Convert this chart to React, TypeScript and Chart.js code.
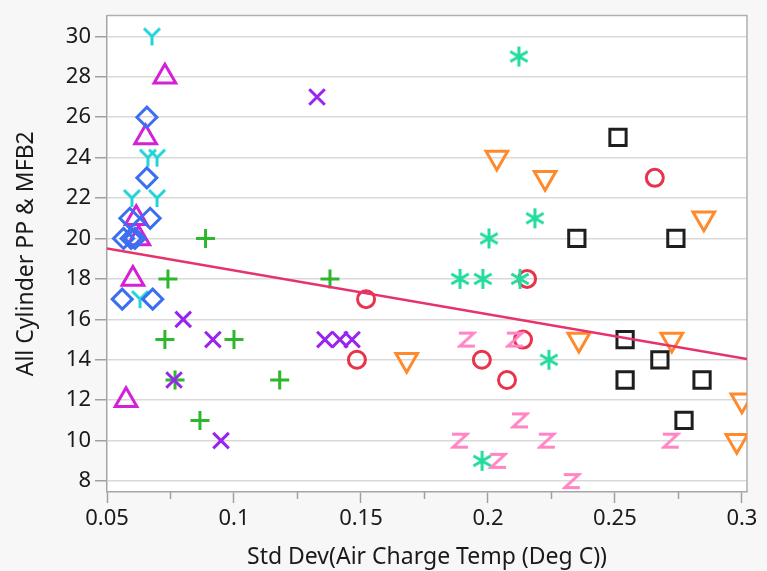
import { useEffect, useRef } from "react";
import { Chart, registerables } from "chart.js";
Chart.register(...registerables);

// ---- axis ticks ----
const xTickValues = [0.05, 0.075, 0.1, 0.125, 0.15, 0.175, 0.2, 0.225, 0.25, 0.275, 0.3];
const xMajorValues = [0.05, 0.1, 0.15, 0.2, 0.25, 0.3];
const xMajorLabels = ["0.05", "0.1", "0.15", "0.2", "0.25", "0.3"];
const yTickValues = [8, 10, 12, 14, 16, 18, 20, 22, 24, 26, 28, 30];
const yTickLabels = ["8", "10", "12", "14", "16", "18", "20", "22", "24", "26", "28", "30"];

// ---- series (x = Std Dev Air Charge Temp, y = All Cylinder PP & MFB2) ----
const cyanYx = [0.0677, 0.0661, 0.0697, 0.0598, 0.0697, 0.063];
const cyanYy = [30, 24, 24, 22, 22, 17];

const magentaTriX = [0.0728, 0.0652, 0.0615, 0.0625, 0.0602, 0.0575];
const magentaTriY = [28, 25, 21, 20, 18, 12];

const blueDiaX = [0.0657, 0.0657, 0.067, 0.059, 0.0565, 0.0595, 0.061, 0.056, 0.068];
const blueDiaY = [26, 23, 21, 21, 20, 20, 20, 17, 17];

const greenPlusX = [0.0888, 0.074, 0.1378, 0.0728, 0.1, 0.0768, 0.118, 0.0866];
const greenPlusY = [20, 18, 18, 15, 15, 13, 13, 11];

const purpleXx = [0.1327, 0.08, 0.0917, 0.1358, 0.1417, 0.1465, 0.0764, 0.0949];
const purpleXy = [27, 16, 15, 15, 15, 15, 13, 10];

const redCircX = [0.1484, 0.152, 0.1976, 0.2075, 0.2154, 0.2138, 0.2657];
const redCircY = [14, 17, 14, 13, 18, 15, 23];

const orangeDownX = [0.2035, 0.2225, 0.168, 0.2358, 0.285, 0.2724, 0.3, 0.298];
const orangeDownY = [24, 23, 14, 15, 21, 15, 12, 10];

const tealStarX = [0.2122, 0.2004, 0.2185, 0.189, 0.198, 0.2126, 0.224, 0.1977];
const tealStarY = [29, 20, 21, 18, 18, 18, 14, 9];

const pinkZx = [0.1917, 0.2106, 0.2126, 0.189, 0.2232, 0.204, 0.233, 0.272];
const pinkZy = [15, 15, 11, 10, 10, 9, 8, 10];

const blackSqX = [0.235, 0.2512, 0.274, 0.254, 0.2677, 0.254, 0.2843, 0.2772];
const blackSqY = [20, 25, 20, 15, 14, 13, 13, 11];

const fitX = [0.05, 0.302];
const fitY = [19.5, 14.04];

const FONT = "'Noto Sans', 'Open Sans', sans-serif";

function pts(xs: number[], ys: number[]) {
  return xs.map((x, i) => ({ x, y: ys[i] }));
}

function makeY(color: string) {
  const c = document.createElement("canvas");
  c.width = 20; c.height = 20;
  const g = c.getContext("2d")!;
  g.strokeStyle = color; g.lineWidth = 3;
  g.beginPath();
  g.moveTo(2, 2); g.lineTo(10, 10); g.lineTo(18, 2);
  g.moveTo(10, 10); g.lineTo(10, 19);
  g.stroke();
  return c;
}
function makeZ(color: string) {
  const c = document.createElement("canvas");
  c.width = 20; c.height = 18;
  const g = c.getContext("2d")!;
  g.strokeStyle = color; g.lineWidth = 3; g.lineJoin = "miter";
  g.beginPath();
  g.moveTo(2, 2.5); g.lineTo(17, 2.5); g.lineTo(3, 15.5); g.lineTo(18, 15.5);
  g.stroke();
  return c;
}
function makeAsterisk(color: string) {
  const c = document.createElement("canvas");
  c.width = 24; c.height = 24;
  const g = c.getContext("2d")!;
  g.strokeStyle = color; g.lineWidth = 3;
  const r = 10, cx = 12, cy = 12;
  g.beginPath();
  g.moveTo(cx, cy - r); g.lineTo(cx, cy + r);
  const dx = r * Math.cos(Math.PI / 6), dy = r * Math.sin(Math.PI / 6);
  g.moveTo(cx - dx, cy - dy); g.lineTo(cx + dx, cy + dy);
  g.moveTo(cx - dx, cy + dy); g.lineTo(cx + dx, cy - dy);
  g.stroke();
  return c;
}

const framePlugin = {
  id: "frame",
  beforeDraw(chart: any) {
    const { ctx, width, height, chartArea } = chart;
    ctx.save();
    ctx.fillStyle = "#f7f7f7";
    ctx.fillRect(0, 0, width, height);
    ctx.fillStyle = "#ffffff";
    ctx.fillRect(chartArea.left, chartArea.top, chartArea.right - chartArea.left, chartArea.bottom - chartArea.top);
    ctx.restore();
  },
  beforeDatasetsDraw(chart: any) {
    const { ctx, chartArea } = chart;
    ctx.save();
    ctx.strokeStyle = "#b0b0b0";
    ctx.lineWidth = 1.5;
    ctx.beginPath();
    ctx.moveTo(chartArea.left, chartArea.top);
    ctx.lineTo(chartArea.right, chartArea.top);
    ctx.lineTo(chartArea.right, chartArea.bottom);
    ctx.stroke();
    ctx.restore();
  },
  afterDraw(chart: any) {
    const { ctx, chartArea, scales } = chart;
    const xs = scales.x;
    ctx.save();
    ctx.strokeStyle = "#a0a0a0";
    ctx.lineWidth = 1.5;
    ctx.beginPath();
    xTickValues.forEach((v) => {
      if (xMajorValues.some((m) => Math.abs(m - v) < 1e-9)) return;
      const px = Math.round(xs.getPixelForValue(v)) + 0.5;
      ctx.moveTo(px, chartArea.bottom);
      ctx.lineTo(px, chartArea.bottom + 7);
    });
    ctx.stroke();
    ctx.restore();
  },
};

export default function App() {
  const ref = useRef<HTMLCanvasElement | null>(null);
  useEffect(() => {
    if (!ref.current) return;
    const yMark = makeY("#1fd3d8");
    const zMark = makeZ("#ff85c4");
    const starMark = makeAsterisk("#22dc9c");
    const chart = new Chart(ref.current, {
      type: "scatter",
      data: {
        datasets: [
          {
            type: "line",
            data: pts(fitX, fitY),
            borderColor: "#e6336b",
            borderWidth: 2.5,
            pointRadius: 0,
            showLine: true,
          } as any,
          { data: pts(blackSqX, blackSqY), pointStyle: "rect", pointRadius: 11.5, borderColor: "#1e1e1e", backgroundColor: "transparent", borderWidth: 3 },
          { data: pts(pinkZx, pinkZy), pointStyle: zMark as any, pointRadius: 9 },
          { data: pts(tealStarX, tealStarY), pointStyle: starMark as any, pointRadius: 10 },
          { data: pts(orangeDownX, orangeDownY), pointStyle: "triangle", rotation: 180, pointRadius: 12.5, borderColor: "#ff8a2c", backgroundColor: "transparent", borderWidth: 3 },
          { data: pts(redCircX, redCircY), pointStyle: "circle", pointRadius: 8.5, borderColor: "#e8334b", backgroundColor: "transparent", borderWidth: 3 },
          { data: pts(purpleXx, purpleXy), pointStyle: "crossRot", pointRadius: 11, borderColor: "#9a24ef", backgroundColor: "transparent", borderWidth: 3 },
          { data: pts(greenPlusX, greenPlusY), pointStyle: "cross", pointRadius: 9.5, borderColor: "#2cb72c", backgroundColor: "transparent", borderWidth: 3 },
          { data: pts(blueDiaX, blueDiaY), pointStyle: "rectRot", pointRadius: 10, borderColor: "#3b6ff2", backgroundColor: "transparent", borderWidth: 3 },
          { data: pts(magentaTriX, magentaTriY), pointStyle: "triangle", pointRadius: 12.5, borderColor: "#d420d8", backgroundColor: "transparent", borderWidth: 3 },
          { data: pts(cyanYx, cyanYy), pointStyle: yMark as any, pointRadius: 10 },
        ],
      },
      options: {
        animation: false,
        responsive: false,
        devicePixelRatio: 1,
        layout: { padding: { top: 12, right: 20, left: 0, bottom: 0 } },
        plugins: { legend: { display: false }, tooltip: { enabled: false } },
        scales: {
          x: {
            type: "linear",
            min: 0.05,
            max: 0.302,
            afterBuildTicks: (s: any) => { s.ticks = xTickValues.map((v) => ({ value: v })); },
            afterFit: (s: any) => { s.height = 79; s.paddingLeft = 0; s.paddingRight = 0; },
            ticks: {
              autoSkip: false,
              maxRotation: 0,
              padding: 5,
              color: "#1a1a1a",
              font: { family: FONT, size: 22, lineHeight: 1.0 },
              callback: (v: any) => {
                const i = xMajorValues.findIndex((m) => Math.abs(m - Number(v)) < 1e-9);
                return i >= 0 ? xMajorLabels[i] : "";
              },
            },
            grid: {
              drawOnChartArea: false,
              drawTicks: true,
              tickLength: 11,
              tickWidth: 1.5,
              tickColor: (c: any) => {
                const v = c.tick ? c.tick.value : NaN;
                return xMajorValues.some((m) => Math.abs(m - v) < 1e-9) ? "#a0a0a0" : "rgba(0,0,0,0)";
              },
            },
            border: { color: "#a6a6a6", width: 1.5 },
            title: {
              display: true,
              text: "Std Dev(Air Charge Temp (Deg C))",
              color: "#1a1a1a",
              font: { family: FONT, size: 23 },
              padding: { top: 0, bottom: 0 },
            },
          },
          y: {
            type: "linear",
            min: 7.46,
            max: 31.03,
            afterBuildTicks: (s: any) => { s.ticks = yTickValues.map((v) => ({ value: v })); },
            afterFit: (s: any) => { s.width = 107; s.paddingTop = 0; s.paddingBottom = 0; },
            ticks: {
              autoSkip: false,
              padding: 4,
              color: "#1a1a1a",
              font: { family: FONT, size: 22 },
              callback: (v: any) => {
                const i = yTickValues.indexOf(Number(v));
                return i >= 0 ? yTickLabels[i] : "";
              },
            },
            grid: {
              color: "#d9d9d9",
              lineWidth: 1.5,
              tickLength: 12,
              tickColor: "#a0a0a0",
            },
            border: { color: "#a6a6a6", width: 1.5 },
            title: {
              display: true,
              text: "All Cylinder PP & MFB2",
              color: "#1a1a1a",
              font: { family: FONT, size: 23 },
              padding: { top: 13, bottom: 0 },
            },
          },
        },
      },
      plugins: [framePlugin],
    });
    return () => chart.destroy();
  }, []);
  return (
    <div style={{ position: "absolute", left: 0, top: 0, width: 767, height: 571 }}>
      <canvas ref={ref} width={767} height={571} style={{ display: "block", width: 767, height: 571 }} />
    </div>
  );
}
